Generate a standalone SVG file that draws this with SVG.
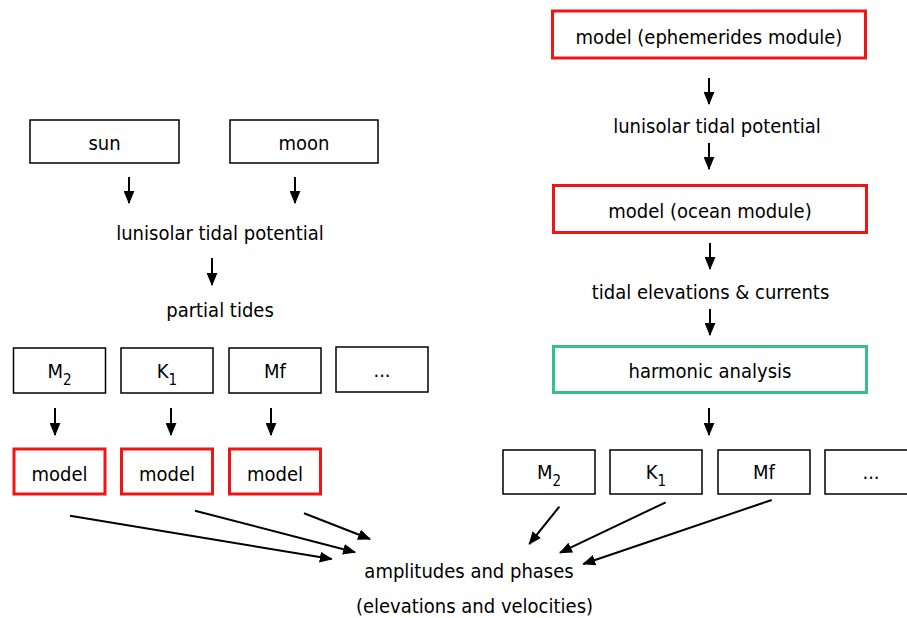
<svg xmlns="http://www.w3.org/2000/svg" width="907" height="618" viewBox="0 0 907 618">
<style>
text{font-family:"DejaVu Sans Condensed","DejaVu Sans",sans-serif;font-stretch:condensed;font-size:20px;fill:#000;text-anchor:middle}
.b{fill:#fff;stroke:#000;stroke-width:1.5}
.r{fill:#fff;stroke:#f01414;stroke-width:3}
.g{fill:#fff;stroke:#33c08a;stroke-width:3}
.c line{stroke:#000;stroke-width:2;marker-end:url(#ah)}
.s{font-size:15px}
</style>
<defs>
<marker id="ah" markerUnits="userSpaceOnUse" markerWidth="13" markerHeight="11" refX="11" refY="5" orient="auto" viewBox="0 0 12 10">
<path d="M0,0 L12,5 L0,10 z" fill="#000"/>
</marker>
</defs>
<rect width="907" height="618" fill="#fff"/>
<g id="sun"><rect class="b" x="30" y="120" width="149" height="43"/><text x="104.5" y="150">sun</text></g>
<g id="moon"><rect class="b" x="230" y="120" width="148" height="43"/><text x="304" y="150">moon</text></g>
<g id="pot-left"><text x="220" y="240">lunisolar tidal potential</text></g>
<g id="partial"><text x="220" y="317">partial tides</text></g>
<g id="lm2"><rect class="b" x="13.5" y="348" width="92" height="45"/><text x="59.5" y="378">M<tspan class="s" dy="7">2</tspan></text></g>
<g id="lk1"><rect class="b" x="121" y="348" width="92" height="45"/><text x="167" y="378">K<tspan class="s" dy="7">1</tspan></text></g>
<g id="lmf"><rect class="b" x="229" y="348" width="92" height="45"/><text x="275" y="378">Mf</text></g>
<g id="ldots"><rect class="b" x="336" y="347" width="92" height="45"/><text x="382" y="377">...</text></g>
<g id="model1"><rect class="r" x="14" y="449" width="91" height="45"/><text x="59.5" y="481">model</text></g>
<g id="model2"><rect class="r" x="121.5" y="449" width="91" height="45"/><text x="167" y="481">model</text></g>
<g id="model3"><rect class="r" x="229.5" y="449" width="91" height="45"/><text x="275" y="481">model</text></g>
<g id="ephem"><rect class="r" x="552.5" y="11" width="313" height="47"/><text x="709" y="44">model (ephemerides module)</text></g>
<g id="pot-right"><text x="717" y="133">lunisolar tidal potential</text></g>
<g id="ocean"><rect class="r" x="553.5" y="185.5" width="313" height="47"/><text x="710" y="218">model (ocean module)</text></g>
<g id="elev"><text x="710.5" y="299">tidal elevations &amp; currents</text></g>
<g id="harm"><rect class="g" x="553.5" y="346.5" width="313" height="46"/><text x="710" y="378">harmonic analysis</text></g>
<g id="rm2"><rect class="b" x="503" y="450" width="92" height="44"/><text x="549" y="479">M<tspan class="s" dy="7">2</tspan></text></g>
<g id="rk1"><rect class="b" x="610" y="450" width="92" height="44"/><text x="656" y="479">K<tspan class="s" dy="7">1</tspan></text></g>
<g id="rmf"><rect class="b" x="718" y="450" width="92" height="44"/><text x="764" y="479">Mf</text></g>
<g id="rdots"><rect class="b" x="825" y="450" width="92" height="44"/><text x="871" y="479">...</text></g>
<g id="amp"><text x="469" y="578">amplitudes and phases</text><text x="474.5" y="613">(elevations and velocities)</text></g>
<g class="c" id="connectors">
<line x1="129" y1="177" x2="129" y2="203"/>
<line x1="295" y1="177" x2="295" y2="203"/>
<line x1="212" y1="258" x2="212" y2="285"/>
<line x1="55" y1="408" x2="55" y2="435"/>
<line x1="171" y1="408" x2="171" y2="435"/>
<line x1="271" y1="408" x2="271" y2="435"/>
<line x1="70" y1="515.7" x2="331.7" y2="559"/>
<line x1="195" y1="510.7" x2="355" y2="552.3"/>
<line x1="304" y1="513.3" x2="370" y2="539"/>
<line x1="709" y1="78" x2="709" y2="104"/>
<line x1="709" y1="143" x2="709" y2="169"/>
<line x1="710" y1="243" x2="710" y2="269"/>
<line x1="710" y1="309" x2="710" y2="335"/>
<line x1="709" y1="408" x2="709" y2="435"/>
<line x1="559.3" y1="506.7" x2="529.3" y2="544"/>
<line x1="665.7" y1="502.3" x2="560" y2="552.7"/>
<line x1="771.7" y1="500" x2="583.3" y2="564"/>
</g>
</svg>
